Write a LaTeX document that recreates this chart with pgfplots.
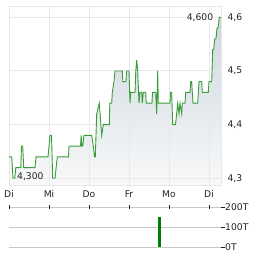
\documentclass[border=0pt]{standalone}
\usepackage{pgfplots}
\usepackage{pgfplotstable}
\pgfplotsset{compat=1.18}
\usepackage{fontspec}
\setmainfont{DejaVu Sans}
\definecolor{linegreen}{RGB}{58,156,58}
\definecolor{bargreen}{RGB}{0,128,0}
\definecolor{gridc}{RGB}{232,232,232}
\definecolor{volgrid}{RGB}{200,200,200}
\definecolor{txt}{RGB}{34,34,34}
\definecolor{filltop}{RGB}{206,214,223}
\definecolor{fillbot}{RGB}{248,249,250}
\pgfplotstableread{
x y
0 4.34
2.7 4.34
4.0 4.30
5.8 4.30
6.8 4.32
11.8 4.32
12.5 4.36
13.7 4.36
14.7 4.32
26 4.32
27 4.34
39 4.34
40 4.36
41 4.38
42.5 4.38
43.7 4.30
46 4.30
48.3 4.34
59.5 4.34
60 4.36
71.5 4.36
72.2 4.38
72.8 4.36
73.7 4.36
75 4.38
82.7 4.38
84.3 4.36
85.5 4.34
86.3 4.34
87.7 4.42
90.3 4.44
92.7 4.38
94.3 4.40
100.3 4.40
100.8 4.44
102.7 4.44
103.3 4.46
105 4.48
106 4.50
113.3 4.50
113.8 4.48
117 4.48
117.5 4.50
120 4.50
121 4.44
121.7 4.46
126 4.46
126.8 4.50
127.7 4.52
128.7 4.50
130 4.44
131 4.46
132.7 4.46
133.2 4.44
134.3 4.46
136.7 4.46
137.2 4.44
143 4.44
143.5 4.46
146.7 4.46
147.7 4.42
148.7 4.50
149.3 4.44
161 4.44
161.5 4.46
162.7 4.46
163.7 4.40
166.5 4.40
168.7 4.44
170 4.42
171 4.44
172.7 4.42
173.3 4.44
176 4.44
176.7 4.46
181 4.46
181.7 4.48
182.7 4.48
183.3 4.46
184 4.44
188.7 4.44
190 4.48
192.7 4.48
193.3 4.46
199.3 4.46
200 4.48
202.7 4.48
203.7 4.54
204.7 4.54
205.7 4.56
207 4.56
208 4.58
209 4.58
210.3 4.60
212 4.60
}\pricedata
\begin{document}
\begin{tikzpicture}
\path[use as bounding box] (0,0) rectangle (264pt,255pt);
% fill only
\begin{axis}[
  at={(9pt,70pt)}, anchor=south west,
  scale only axis, width=212pt, height=178pt,
  xmin=0, xmax=212, ymin=4.2875, ymax=4.6192,
  hide axis,
]
\addplot[draw=none, top color=filltop, bottom color=fillbot] table[x=x,y=y] {\pricedata} \closedcycle;
\end{axis}
% grid, line, labels
\begin{axis}[
  at={(9pt,70pt)}, anchor=south west,
  scale only axis, width=212pt, height=178pt,
  xmin=0, xmax=212, ymin=4.2875, ymax=4.6192,
  xtick={0,40,80,120,160,200},
  xticklabels={Di,Mi,Do,Fr,Mo,Di},
  ytick={4.3,4.4,4.5,4.6},
  yticklabels={{4,3},{4,4},{4,5},{4,6}},
  yticklabel pos=right,
  major tick length=0pt,
  grid=major,
  grid style={gridc, line width=1pt},
  axis line style={gridc, line width=1pt},
  tick label style={font=\fontsize{9.2}{11}\selectfont, text=txt},
  yticklabel style={xshift=3pt},
  xticklabel style={yshift=-2pt},
  clip=false,
]
\addplot[linegreen, line width=0.9pt] table[x=x,y=y] {\pricedata};
\node[anchor=west, inner sep=0pt, text=txt, font=\fontsize{9.2}{11}\selectfont] at (axis cs:8,4.303) {4,300};
\node[anchor=east, inner sep=0.6pt, fill=white, text=txt, font=\fontsize{9.2}{11}\selectfont] at (axis cs:205,4.60) {4,600};
\end{axis}
% volume
\begin{axis}[
  at={(9pt,8pt)}, anchor=south west,
  scale only axis, width=212pt, height=40pt,
  xmin=0, xmax=212, ymin=0, ymax=200,
  axis x line*=top, axis y line*=right,
  x axis line style={draw=none},
  y axis line style={draw=none},
  xtick={0,40,80,120,160,200}, xticklabels={},
  xtick style={txt, line width=0.6pt},
  xtick align=center,
  ytick={0,100,200},
  yticklabels={0T,100T,200T},
  ytick style={txt, line width=0.6pt},
  ytick align=outside,
  major tick length=3.5pt,
  ymajorgrids, grid style={volgrid, line width=1pt},
  tick label style={font=\fontsize{9.2}{11}\selectfont, text=txt},
  yticklabel style={inner sep=0.5pt},
  clip=false,
]
\addplot[ybar, bar width=3pt, fill=bargreen, draw=none] coordinates {(150.5,150)};
\end{axis}
\end{tikzpicture}
\end{document}
